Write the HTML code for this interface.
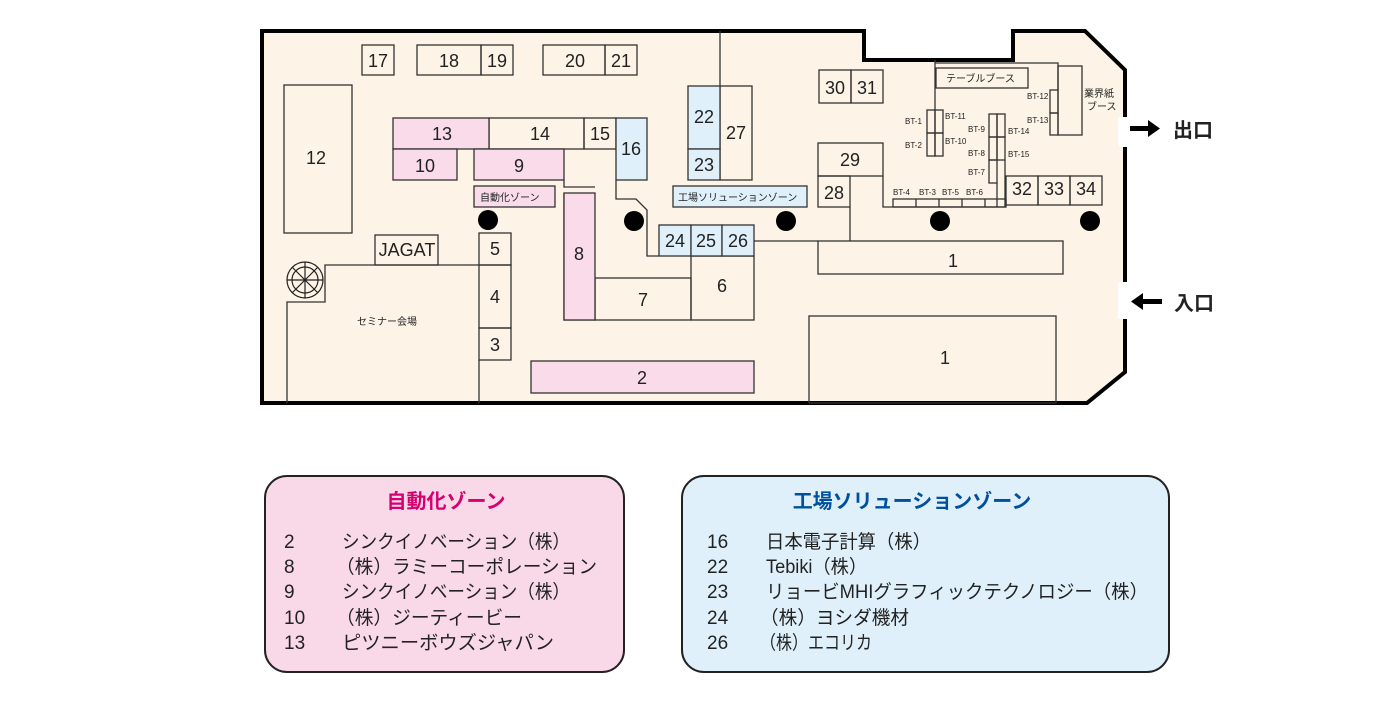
<!DOCTYPE html>
<html><head><meta charset="utf-8"><style>
html,body{margin:0;padding:0;background:#fff;}
svg{display:block;}
text{font-family:"Liberation Sans","Noto Sans CJK JP",sans-serif;fill:#222;}
.n{font-size:18px;text-anchor:middle;dominant-baseline:central;}
.s{font-size:8px;}
.l{font-size:19px;}
</style></head><body>
<svg width="1400" height="707" viewBox="0 0 1400 707" xmlns="http://www.w3.org/2000/svg">
<g stroke="#333" stroke-width="1.3">
<polygon points="262,31 864,31 864,60 1013,60 1013,31 1085,31 1125,70 1125,372 1087,403 262,403" fill="#fdf3e7" stroke="#000" stroke-width="4"/>
<rect x="1118" y="117" width="12" height="30" fill="#fff" stroke="none"/>
<rect x="1118" y="282" width="12" height="37" fill="#fff" stroke="none"/>
<g fill="none">
<rect x="362" y="45" width="32" height="30"/>
<rect x="417" y="45" width="64" height="30"/><rect x="481" y="45" width="32" height="30"/>
<rect x="543" y="45" width="62" height="30"/><rect x="605" y="45" width="32" height="30"/>
<rect x="284" y="85" width="68" height="148"/>
<rect x="489" y="118" width="95" height="31"/><rect x="584" y="118" width="32" height="31"/>
<rect x="720" y="86" width="32" height="94"/>
<line x1="720" y1="31" x2="720" y2="86"/>
<polyline points="564,180 564,187 595,187"/>
<polyline points="616,180 616,199 636,199 647,210 647,256 659,256"/>
<rect x="595" y="278" width="96" height="42"/>
<rect x="691" y="256" width="63" height="64"/>
<polyline points="564,193 564,320 595,320"/>
<line x1="754" y1="241" x2="818" y2="241"/>
<line x1="850" y1="207" x2="850" y2="241"/>
<rect x="818" y="241" width="245" height="33"/>
<rect x="818" y="143" width="65" height="33"/>
<rect x="818" y="176" width="32" height="31"/>
<rect x="819" y="70" width="32" height="33"/><rect x="851" y="70" width="32" height="33"/>
<polyline points="883,176 883,207 1006,207"/>
<rect x="893" y="199" width="113" height="8"/>
<line x1="916" y1="199" x2="916" y2="207"/><line x1="939" y1="199" x2="939" y2="207"/><line x1="962" y1="199" x2="962" y2="207"/><line x1="985" y1="199" x2="985" y2="207"/>
<rect x="1006" y="176" width="32" height="29"/><rect x="1038" y="176" width="32" height="29"/><rect x="1070" y="176" width="32" height="29"/>
<rect x="809" y="316" width="247" height="87"/>
<polyline points="287,403 287,302 325,302 325,265 479,265"/>
<rect x="375" y="235" width="63" height="30"/>
<rect x="479" y="233" width="32" height="32"/><rect x="479" y="265" width="32" height="63"/><rect x="479" y="328" width="32" height="32"/>
<line x1="479" y1="360" x2="479" y2="403"/>
<line x1="935" y1="60" x2="935" y2="110"/>
<polyline points="935,63 1058,63 1058,90"/>
<rect x="936" y="68" width="92" height="20" fill="#fdf3e7"/>
<rect x="927" y="110" width="8" height="23"/><rect x="927" y="133" width="8" height="23"/>
<rect x="935" y="110" width="8" height="23"/><rect x="935" y="133" width="8" height="23"/>
<rect x="989" y="114" width="8" height="23"/><rect x="989" y="137" width="8" height="23"/><rect x="989" y="160" width="8" height="23"/>
<rect x="997" y="114" width="8" height="23"/><rect x="997" y="137" width="8" height="23"/>
<line x1="997" y1="183" x2="997" y2="207"/><line x1="1005" y1="160" x2="1005" y2="207"/>
<rect x="1058" y="66" width="24" height="69"/>
<rect x="1050" y="90" width="8" height="23"/><rect x="1050" y="113" width="8" height="22"/>
</g>
<g fill="#f9dbe9">
<rect x="393" y="118" width="96" height="31"/>
<rect x="393" y="149" width="64" height="31"/>
<rect x="474" y="149" width="90" height="31"/>
<rect x="564" y="193" width="31" height="127"/>
<rect x="531" y="361" width="223" height="32"/>
<rect x="474" y="186" width="81" height="21"/>
</g>
<g fill="#dff0fa">
<rect x="616" y="118" width="31" height="62"/>
<rect x="688" y="86" width="32" height="63"/><rect x="688" y="149" width="32" height="31"/>
<rect x="673" y="186" width="134" height="21"/>
<rect x="659" y="225" width="32" height="31"/><rect x="691" y="225" width="31" height="31"/><rect x="722" y="225" width="32" height="31"/>
</g>
</g>
<g fill="#000">
<circle cx="488" cy="220" r="10"/><circle cx="634" cy="221" r="10"/><circle cx="786" cy="221" r="10"/><circle cx="940" cy="221" r="10"/><circle cx="1090" cy="221" r="10"/>
</g>
<g stroke="#222" fill="none" stroke-width="1.2">
<circle cx="305" cy="280" r="18"/><circle cx="305" cy="280" r="13"/>
<line x1="287" y1="280" x2="323" y2="280"/><line x1="305" y1="262" x2="305" y2="298"/>
<line x1="292" y1="267" x2="318" y2="293"/><line x1="318" y1="267" x2="292" y2="293"/>
</g>
<g fill="#000"><rect x="1130" y="126" width="18" height="5"/><polygon points="1148,120 1160,128.5 1148,137"/>
<rect x="1143" y="299" width="19" height="5"/><polygon points="1143,293 1131,301.5 1143,310"/></g>
<text x="1173" y="137" style="font-size:20px;font-weight:bold">出口</text>
<text x="1174" y="310" style="font-size:20px;font-weight:bold">入口</text>
<text class="n" x="378" y="61">17</text><text class="n" x="449" y="61">18</text><text class="n" x="497" y="61">19</text>
<text class="n" x="575" y="61">20</text><text class="n" x="621" y="61">21</text>
<text class="n" x="316" y="158">12</text>
<text class="n" x="442" y="134">13</text><text class="n" x="540" y="134">14</text><text class="n" x="600" y="134">15</text>
<text class="n" x="631" y="149">16</text>
<text class="n" x="425" y="166">10</text><text class="n" x="519" y="166">9</text>
<text class="n" x="704" y="117">22</text><text class="n" x="704" y="165">23</text><text class="n" x="736" y="133">27</text>
<text class="n" x="579" y="254">8</text><text class="n" x="643" y="300">7</text><text class="n" x="722" y="286">6</text>
<text class="n" x="675" y="241">24</text><text class="n" x="706" y="241">25</text><text class="n" x="738" y="241">26</text>
<text class="n" x="850" y="160">29</text><text class="n" x="834" y="193">28</text>
<text class="n" x="835" y="88">30</text><text class="n" x="867" y="88">31</text>
<text class="n" x="1022" y="189">32</text><text class="n" x="1054" y="189">33</text><text class="n" x="1086" y="189">34</text>
<text class="n" x="953" y="261">1</text><text class="n" x="945" y="358">1</text>
<text class="n" x="642" y="378">2</text>
<text class="n" x="407" y="250">JAGAT</text>
<text class="n" x="495" y="249">5</text><text class="n" x="495" y="297">4</text><text class="n" x="495" y="345">3</text>
<text x="357" y="325" style="font-size:10px">セミナー会場</text>
<text x="480" y="201" style="font-size:10px">自動化ゾーン</text>
<text x="678" y="201" style="font-size:10px">工場ソリューションゾーン</text>
<text x="946" y="82" style="font-size:10px">テーブルブース</text>
<text x="1084" y="97" style="font-size:10px">業界紙</text><text x="1087" y="110" style="font-size:10px">ブース</text>
<text class="s" x="905" y="124">BT-1</text><text class="s" x="905" y="148">BT-2</text>
<text class="s" x="945" y="119">BT-11</text><text class="s" x="945" y="144">BT-10</text>
<text class="s" x="968" y="132">BT-9</text><text class="s" x="968" y="156">BT-8</text><text class="s" x="968" y="175">BT-7</text>
<text class="s" x="1008" y="134">BT-14</text><text class="s" x="1008" y="157">BT-15</text>
<text class="s" x="1027" y="99">BT-12</text><text class="s" x="1027" y="123">BT-13</text>
<text class="s" x="893" y="195">BT-4</text><text class="s" x="919" y="195">BT-3</text><text class="s" x="942" y="195">BT-5</text><text class="s" x="966" y="195">BT-6</text>
<rect x="265" y="476" width="359" height="196" rx="22" fill="#f9d9e8" stroke="#222" stroke-width="2"/>
<rect x="682" y="476" width="487" height="196" rx="22" fill="#dff0fa" stroke="#222" stroke-width="2"/>
<text x="446" y="508" style="font-size:20px;font-weight:bold;fill:#d6006f;text-anchor:middle">自動化ゾーン</text>
<text x="912" y="508" style="font-size:20px;font-weight:bold;fill:#0050a0;text-anchor:middle">工場ソリューションゾーン</text>
<text class="l" x="284" y="548">2</text><text class="l" x="342" y="548" textLength="228" lengthAdjust="spacingAndGlyphs">シンクイノベーション（株）</text>
<text class="l" x="284" y="573">8</text><text class="l" x="336" y="573" textLength="261" lengthAdjust="spacingAndGlyphs">（株）ラミーコーポレーション</text>
<text class="l" x="284" y="598">9</text><text class="l" x="342" y="598" textLength="228" lengthAdjust="spacingAndGlyphs">シンクイノベーション（株）</text>
<text class="l" x="284" y="624">10</text><text class="l" x="336" y="624" textLength="186" lengthAdjust="spacingAndGlyphs">（株）ジーティービー</text>
<text class="l" x="284" y="649">13</text><text class="l" x="342" y="649" textLength="212" lengthAdjust="spacingAndGlyphs">ピツニーボウズジャパン</text>
<text class="l" x="707" y="548">16</text><text class="l" x="766" y="548" textLength="165" lengthAdjust="spacingAndGlyphs">日本電子計算（株）</text>
<text class="l" x="707" y="573">22</text><text class="l" x="766" y="573" textLength="101" lengthAdjust="spacingAndGlyphs">Tebiki（株）</text>
<text class="l" x="707" y="598">23</text><text class="l" x="766" y="598" textLength="382" lengthAdjust="spacingAndGlyphs">リョービMHIグラフィックテクノロジー（株）</text>
<text class="l" x="707" y="624">24</text><text class="l" x="760" y="624" textLength="149" lengthAdjust="spacingAndGlyphs">（株）ヨシダ機材</text>
<text class="l" x="707" y="649">26</text><text class="l" x="760" y="649" textLength="112" lengthAdjust="spacingAndGlyphs">（株）エコリカ</text>
</svg>
</body></html>
